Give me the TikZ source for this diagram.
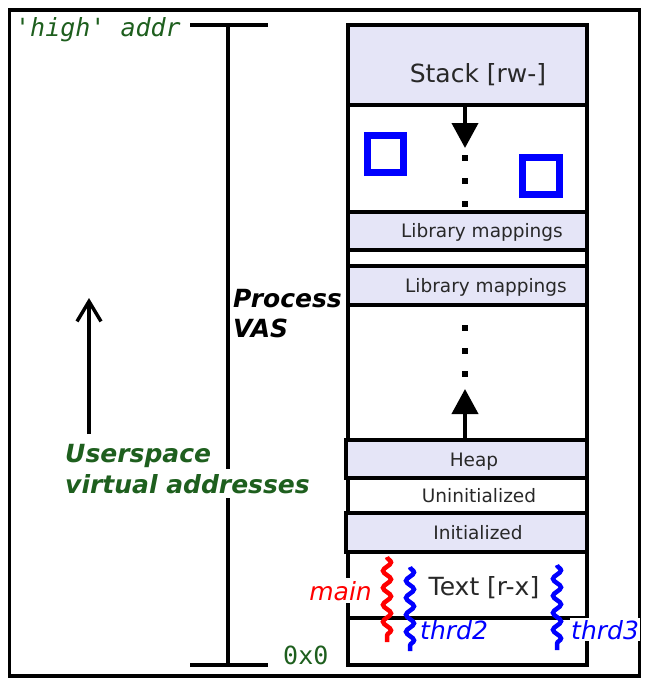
\documentclass[tikz,border=0pt]{standalone}
\usepackage{fontspec}
\setmainfont{DejaVu Sans}[BoldFont={DejaVu Sans Bold},ItalicFont={DejaVu Sans Oblique},BoldItalicFont={DejaVu Sans Bold Oblique}]
\newfontfamily\monof{DejaVu Sans Mono}[ItalicFont={DejaVu Sans Mono Oblique}]
\usetikzlibrary{arrows.meta,decorations.pathmorphing}
\definecolor{lav}{RGB}{229,229,247}
\definecolor{grn}{RGB}{30,95,30}
\definecolor{txtgray}{RGB}{40,40,40}
\begin{document}
\begin{tikzpicture}[x=1pt,y=-1pt,
  seg/.style={draw=black,line width=4pt},
  lavseg/.style={seg,fill=lav},
  smalllbl/.style={text=txtgray,inner sep=0pt,font=\fontsize{18.5}{22}\selectfont},
  biglbl/.style={text=txtgray,inner sep=0pt,font=\fontsize{25}{30}\selectfont},
  bracket/.style={line width=4pt},
  growarrow/.style={line width=4pt,-{Triangle[width=26pt,length=25pt]}},
  dotline/.style={line width=6pt,dash pattern=on 6pt off 17pt},
  thread/.style={line width=4.5pt,decorate,decoration={snake,amplitude=4pt,segment length=17pt}},
  mono/.style={text=grn,inner sep=0pt,font=\fontsize{25}{30}\selectfont\monof},
  grnbold/.style={text=grn,font=\fontsize{25}{30}\selectfont\bfseries\itshape},
  thrlbl/.style={font=\fontsize{25}{30}\selectfont\itshape}
]
\useasboundingbox (0,0) rectangle (648,686);
\fill[white] (0,0) rectangle (648,686);
% outer frame
\draw[line width=3.5pt] (9.5,10) rectangle (639.5,676);

% bracket
\coordinate (bt1) at (190,25); \coordinate (bt2) at (268,25);
\coordinate (btm) at (228,25); \coordinate (bbm) at (228,665);
\coordinate (bb1) at (190,665); \coordinate (bb2) at (268,665);
\draw[bracket] (bt1) -- (bt2);
\draw[bracket] (btm) -- (bbm);
\draw[bracket] (bb1) -- (bb2);

% memory column
\draw[lavseg] (348,25) rectangle (587,105);
\draw[seg] (348,105) rectangle (587,212);
\draw[lavseg] (348,212) rectangle (587,250);
\draw[seg] (348,250) rectangle (587,266);
\draw[lavseg] (348,266) rectangle (587,305);
\draw[seg] (348,305) rectangle (587,440);
\draw[lavseg] (346,440) rectangle (587,478);
\draw[seg] (348,478) rectangle (587,513);
\draw[lavseg] (346,513) rectangle (587,552);
\draw[seg] (348,552) rectangle (587,618);
\draw[seg] (348,618) rectangle (587,665);

% segment labels
\node[biglbl,anchor=base] (stack) at (478,82) {Stack [rw-]};
\node[smalllbl,anchor=base] (lib1) at (482,237) {Library mappings};
\node[smalllbl,anchor=base] (lib2) at (486,292) {Library mappings};
\node[smalllbl,anchor=base] (heap) at (474,466) {Heap};
\node[smalllbl,anchor=base] (uninit) at (479,502) {Uninitialized};
\node[smalllbl,anchor=base] (init) at (478,539) {Initialized};
\node[biglbl,anchor=base] (text) at (484,595) {Text [r-x]};

% stack growth
\coordinate (sa) at (465,105); \coordinate (sb) at (465,148);
\draw[growarrow] (sa) -- (sb);
\coordinate (sd1) at (465,155); \coordinate (sd2) at (465,209);
\draw[dotline] (sd1) -- (sd2);
% heap growth
\coordinate (ha) at (465,440); \coordinate (hb) at (465,389);
\draw[growarrow] (ha) -- (hb);
\coordinate (hd1) at (465,325); \coordinate (hd2) at (465,378);
\draw[dotline] (hd1) -- (hd2);

% thread stacks
\draw[blue,line width=7pt] (367.5,135.5) rectangle (403.5,172.5);
\draw[blue,line width=7pt] (522.5,157.5) rectangle (559.5,194.5);

% threads
\coordinate (m1) at (387,557); \coordinate (m2) at (387,642);
\coordinate (t21) at (410,567); \coordinate (t22) at (410,651);
\coordinate (t31) at (557,565); \coordinate (t32) at (557,650);
\draw[thread,red] (m1) -- (m2);
\draw[thread,blue] (t21) -- (t22);
\draw[thread,blue] (t31) -- (t32);
\node[thrlbl,text=red,fill=white,inner xsep=1pt,inner ysep=3pt,anchor=base east] (main) at (373,600) {main};
\node[thrlbl,text=blue,inner sep=0pt,anchor=base west] (thrd2) at (420,639) {thrd2};
\node[thrlbl,text=blue,fill=white,inner xsep=1pt,inner ysep=2pt,anchor=base west] (thrd3) at (570,639) {thrd3};

% left side labels
\node[mono,font=\fontsize{25}{30}\selectfont\monof\itshape,anchor=base west] (high) at (15,36) {'high' addr};
\node[mono,anchor=base west] (zero) at (283,664) {0x0};
\node[font=\fontsize{25}{30}\selectfont\bfseries\itshape,inner sep=0pt,anchor=base west] (procA) at (233,307) {Process};
\node[font=\fontsize{25}{30}\selectfont\bfseries\itshape,inner sep=0pt,anchor=base west] (procB) at (233,337) {VAS};
\node[grnbold,fill=white,inner xsep=1pt,inner ysep=5pt,anchor=base west] (virt) at (64,493) {virtual addresses};
\node[grnbold,inner sep=0pt,anchor=base west] (user) at (65,462) {Userspace};
\coordinate (ua) at (89,434); \coordinate (ub) at (89,298);
\draw[line width=3.5pt,-{Straight Barb[width=24pt,length=20pt]}] (ua) -- (ub);
\end{tikzpicture}
\end{document}
